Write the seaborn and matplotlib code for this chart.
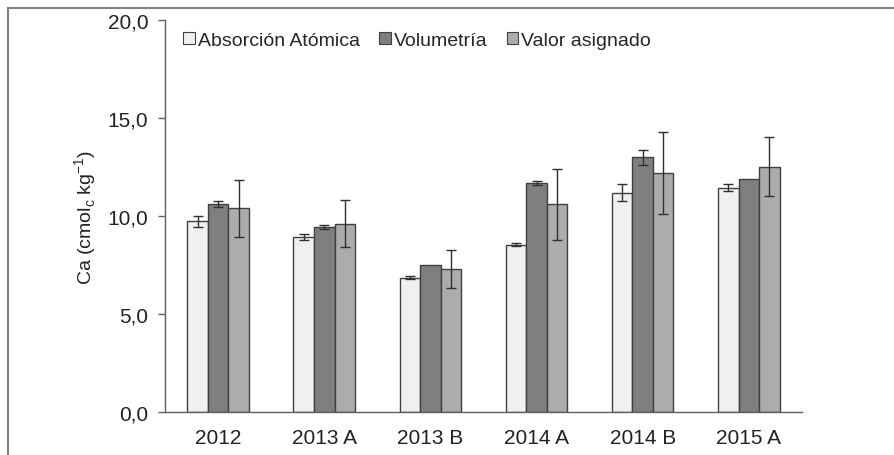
import matplotlib
matplotlib.use("Agg")
import matplotlib.pyplot as plt
from matplotlib.patches import Patch
from matplotlib.lines import Line2D
import seaborn as sns
import pandas as pd

# data
years = ['2012', '2013 A', '2013 B', '2014 A', '2014 B', '2015 A']
methods = ['Absorción Atómica', 'Volumetría', 'Valor asignado']
absorcion = [9.72, 8.93, 6.85, 8.54, 11.19, 11.45]
absorcion_err = [0.30, 0.15, 0.08, 0.07, 0.45, 0.20]
volumetria = [10.60, 9.44, 7.50, 11.66, 12.99, 11.89]
volumetria_err = [0.15, 0.10, 0.0, 0.10, 0.38, 0.0]
asignado = [10.40, 9.60, 7.32, 10.60, 12.20, 12.52]
asignado_err = [1.45, 1.20, 0.97, 1.80, 2.10, 1.50]

colors = ['#f0f0f0', '#7f7f7f', '#acacac']

df = pd.DataFrame({
    'year': years * 3,
    'method': [m for m in methods for _ in years],
    'value': absorcion + volumetria + asignado,
})
errors = [absorcion_err, volumetria_err, asignado_err]

sns.set_style('white')
plt.rcParams['font.family'] = ['Liberation Sans', 'DejaVu Sans']

fig = plt.figure(figsize=(8.94, 4.56), dpi=100)
ax = fig.add_axes([0.1846, 0.0943, 0.7124, 0.8597])

sns.barplot(data=df, x='year', y='value', hue='method', hue_order=methods,
            order=years, palette=colors, edgecolor='#404040', linewidth=1.0,
            width=0.58, errorbar=None, legend=False, ax=ax)

# error bars at the centre of every bar, one container per method
for cont, errs in zip(ax.containers, errors):
    for p, e in zip(cont.patches, errs):
        if e > 0:
            xc = p.get_x() + p.get_width() / 2
            ax.errorbar(xc, p.get_height(), yerr=e, color='#303030',
                        elinewidth=1.0, capsize=3.6, capthick=1.0, fmt='none')

ax.set_ylim(0, 20)
ax.set_xlim(-0.5, 5.5)
ax.set_yticks([0, 5, 10, 15, 20])
ax.set_yticklabels(['0,0', '5,0', '10,0', '15,0', '20,0'])
ax.tick_params(axis='y', left=True, length=5, width=1, color='#606060',
               labelsize=15, pad=7, labelcolor='#222222')
ax.tick_params(axis='x', bottom=False, labelsize=15, pad=8, labelcolor='#222222')
ax.set_xlabel('')
ax.set_ylabel(r'Ca (cmol$_\mathregular{c}$ kg$^\mathregular{-1}$)', fontsize=14,
              color='#222222', labelpad=6)

for s in ['top', 'right']:
    ax.spines[s].set_visible(False)
for s in ['left', 'bottom']:
    ax.spines[s].set_color('#606060')
    ax.spines[s].set_linewidth(1.0)

handles = [Patch(facecolor=c, edgecolor='#404040', linewidth=0.8) for c in colors]
ax.legend(handles, methods, loc='upper left', bbox_to_anchor=(0.01, 1.0), ncol=3,
          frameon=False, fontsize=14, handlelength=0.6, handleheight=0.6,
          handletextpad=0.15, columnspacing=1.0, borderaxespad=0.2)

# outer frame of the figure
fig.add_artist(Line2D([7.5 / 894, 1.0], [1 - 8.5 / 456, 1 - 8.5 / 456],
                      transform=fig.transFigure, color='#808080', linewidth=1.5))
fig.add_artist(Line2D([7.5 / 894, 7.5 / 894], [0.0, 1 - 8.5 / 456],
                      transform=fig.transFigure, color='#808080', linewidth=1.5))

fig.savefig('out.png', dpi=100)
